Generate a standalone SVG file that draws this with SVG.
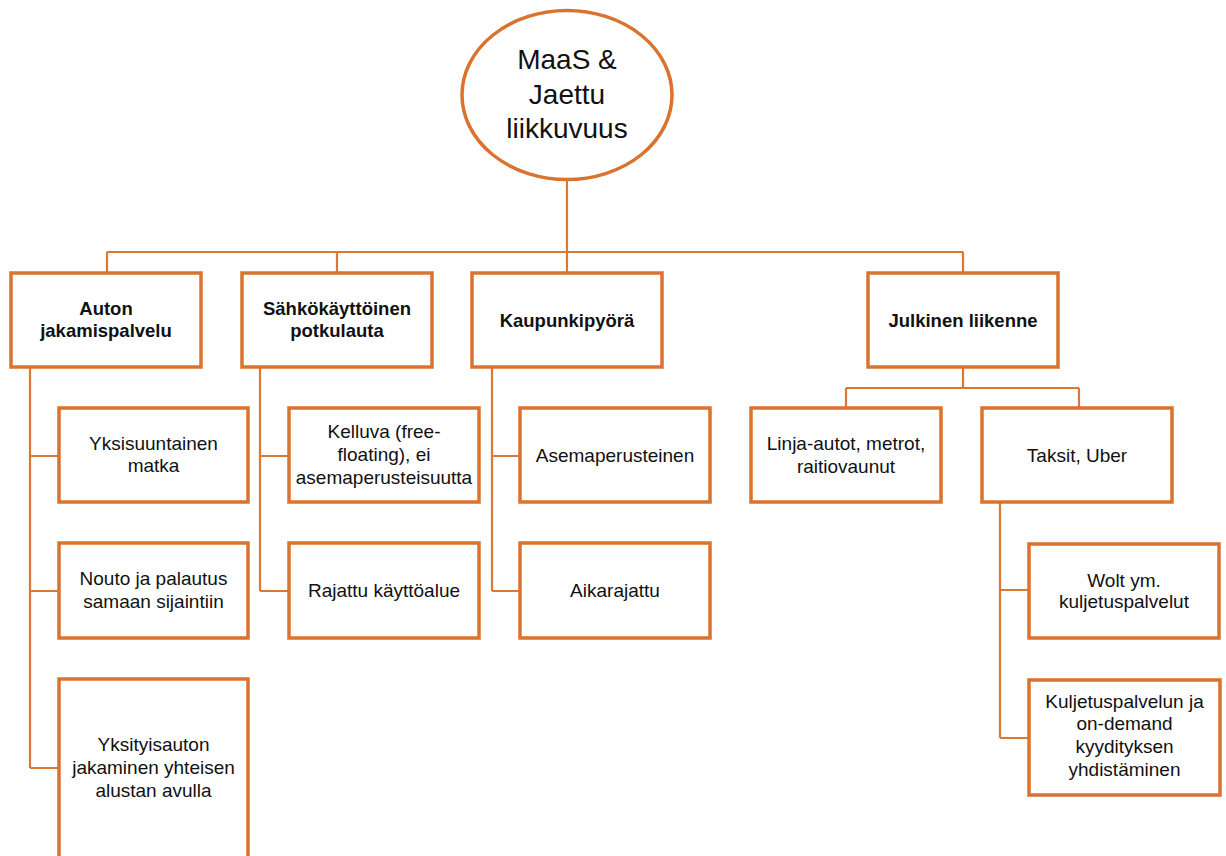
<svg xmlns="http://www.w3.org/2000/svg" width="1226" height="856" viewBox="0 0 1226 856">
<style>
.box{fill:#ffffff;stroke:#D9732F;stroke-width:3.5}
.ell{fill:#ffffff;stroke:#D9732F;stroke-width:3.5}
.con{fill:none;stroke:#DA7835;stroke-width:2.2}
text{font-family:"Liberation Sans",Arial,sans-serif;fill:#111111;text-anchor:middle}
.t{font-size:19px}
.b{font-size:18.5px;font-weight:bold}
.big{font-size:28px}
</style>
<rect width="1226" height="856" fill="#ffffff"/>
<g id="connectors">
<path class="con" d="M567 180V273M107 252H963M107 252V273M337 252V273M963 252V273"/>
<path class="con" d="M30 367V768M30 456H59M30 591H59M30 768H59"/>
<path class="con" d="M260 367V591M260 456H289M260 591H289"/>
<path class="con" d="M492 367V591M492 456H520M492 591H520"/>
<path class="con" d="M963 367V388M846 388H1079M846 388V408M1079 388V408"/>
<path class="con" d="M1000 502V738M1000 590H1029M1000 738H1029"/>
</g>
<g id="root">
<ellipse class="ell" cx="567" cy="95" rx="105" ry="84.5"/>
<text class="big" x="567" y="69">MaaS &amp;</text>
<text class="big" x="567" y="103.5">Jaettu</text>
<text class="big" x="567" y="138">liikkuvuus</text>
</g>
<g id="auton">
<rect class="box" x="11" y="273" width="190" height="94"/>
<text class="b" x="106" y="315">Auton</text>
<text class="b" x="106" y="337">jakamispalvelu</text>
</g>
<g id="sahko">
<rect class="box" x="242" y="273" width="190" height="94"/>
<text class="b" x="337" y="315">Sähkökäyttöinen</text>
<text class="b" x="337" y="337">potkulauta</text>
</g>
<g id="kaupunki">
<rect class="box" x="472" y="273" width="190" height="94"/>
<text class="b" x="567" y="327">Kaupunkipyörä</text>
</g>
<g id="julkinen">
<rect class="box" x="868" y="273" width="190" height="94"/>
<text class="b" x="963" y="327">Julkinen liikenne</text>
</g>
<g id="yksisuuntainen">
<rect class="box" x="59" y="408" width="189" height="94"/>
<text class="t" x="153.5" y="450">Yksisuuntainen</text>
<text class="t" x="153.5" y="472">matka</text>
</g>
<g id="nouto">
<rect class="box" x="59" y="543" width="189" height="95"/>
<text class="t" x="153.5" y="585">Nouto ja palautus</text>
<text class="t" x="153.5" y="608">samaan sijaintiin</text>
</g>
<g id="yksityisauton">
<rect class="box" x="59" y="679" width="189" height="200"/>
<text class="t" x="153.5" y="751">Yksityisauton</text>
<text class="t" x="153.5" y="774">jakaminen yhteisen</text>
<text class="t" x="153.5" y="797">alustan avulla</text>
</g>
<g id="kelluva">
<rect class="box" x="289" y="408" width="190" height="94"/>
<text class="t" x="384" y="438">Kelluva (free-</text>
<text class="t" x="384" y="461">floating), ei</text>
<text class="t" x="384" y="484">asemaperusteisuutta</text>
</g>
<g id="rajattu">
<rect class="box" x="289" y="543" width="190" height="95"/>
<text class="t" x="384" y="597">Rajattu käyttöalue</text>
</g>
<g id="asema">
<rect class="box" x="520" y="408" width="190" height="94"/>
<text class="t" x="615" y="462">Asemaperusteinen</text>
</g>
<g id="aika">
<rect class="box" x="520" y="543" width="190" height="95"/>
<text class="t" x="615" y="597">Aikarajattu</text>
</g>
<g id="linja">
<rect class="box" x="751" y="408" width="190" height="94"/>
<text class="t" x="846" y="450">Linja-autot, metrot,</text>
<text class="t" x="846" y="473">raitiovaunut</text>
</g>
<g id="taksit">
<rect class="box" x="982" y="408" width="190" height="94"/>
<text class="t" x="1077" y="462">Taksit, Uber</text>
</g>
<g id="wolt">
<rect class="box" x="1029" y="544" width="190" height="94"/>
<text class="t" x="1124" y="587">Wolt ym.</text>
<text class="t" x="1124" y="608">kuljetuspalvelut</text>
</g>
<g id="kuljetus">
<rect class="box" x="1029" y="680" width="191" height="115"/>
<text class="t" x="1124.5" y="708">Kuljetuspalvelun ja</text>
<text class="t" x="1124.5" y="730">on-demand</text>
<text class="t" x="1124.5" y="753">kyydityksen</text>
<text class="t" x="1124.5" y="776">yhdistäminen</text>
</g>
</svg>
